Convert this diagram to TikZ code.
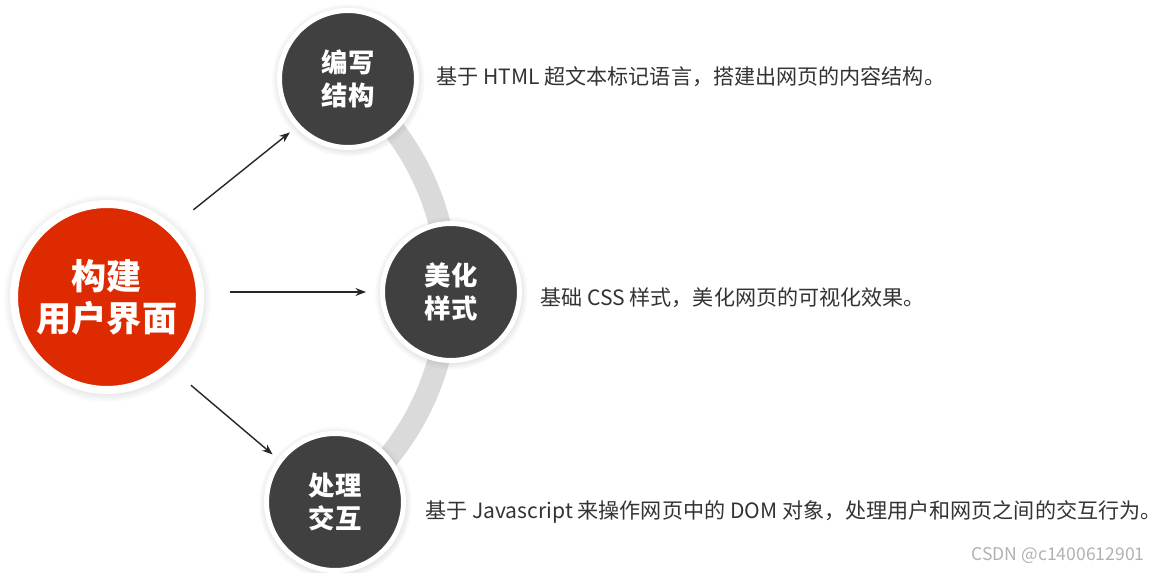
\documentclass[tikz,border=0pt]{standalone}
\usepackage{fontspec}
\setmainfont{Noto Sans CJK SC}
\usetikzlibrary{arrows.meta,positioning,shadows}

\definecolor{hubred}{HTML}{DD2A00}
\definecolor{stepgray}{HTML}{404040}
\definecolor{trackgray}{HTML}{DADADA}
\definecolor{descgray}{HTML}{333333}

\begin{document}
\begin{tikzpicture}[
  x=0.02cm, y=0.02cm,
  >={Stealth[length=6pt, width=4.5pt]},
  disc/.style={circle, draw=white, text=white, align=center,
    circular drop shadow={shadow xshift=0pt, shadow yshift=-0.5pt, shadow scale=1.12, opacity=0.3}},
  hubdisc/.style={disc, fill=hubred, line width=0.16cm, minimum size=3.72cm, font=\fontsize{20}{24}\selectfont\bfseries},
  stepdisc/.style={disc, fill=stepgray, line width=0.1cm, minimum size=2.74cm, font=\fontsize{15}{19}\selectfont\bfseries},
  desc/.style={anchor=west, inner sep=0pt, text=descgray, font=\fontsize{12}{14}\selectfont},
  arr/.style={->, line width=0.8pt, draw=black!85},
  track/.style={draw=trackgray, line width=0.44cm}
]
\useasboundingbox[fill=white] (0,0) rectangle (1160,572);

% Track behind the three steps
\coordinate (arcc) at (183,282);
\draw[track] (arcc) ++(52:265) arc[start angle=52, end angle=-54, radius=265];

% Hub
\node[hubdisc] (hub) at (107,275) {构建\\用户界面};

% Steps
\node[stepdisc] (struct) at (348,493) {编写\\结构};
\node[stepdisc] (style) at (451,280) {美化\\样式};
\node[stepdisc] (inter) at (335,70) {处理\\交互};

% Arrows
\draw[arr, shorten <=0.52cm, shorten >=0.16cm] (hub.47.6) -- (struct.223);
\draw[arr, shorten <=0.52cm, shorten >=0.28cm] (hub.east |- style.west) -- (style.west);
\draw[arr, shorten <=0.5cm, shorten >=0.15cm] (hub.-48.3) -- (inter.143.3);

% Descriptions
\node[desc] (d1) at (436,495) {基于 HTML 超文本标记语言，搭建出网页的内容结构。};
\node[desc] (d2) at (540,274) {基础 CSS 样式，美化网页的可视化效果。};
\node[desc] (d3) at (425,60) {基于 Javascript 来操作网页中的 DOM 对象，处理用户和网页之间的交互行为。};

% Watermark
\node[anchor=east, inner sep=0pt, text=gray!60, font=\fontsize{10}{12}\selectfont] (mark) at (1145,17) {CSDN @c1400612901};

\end{tikzpicture}
\end{document}
